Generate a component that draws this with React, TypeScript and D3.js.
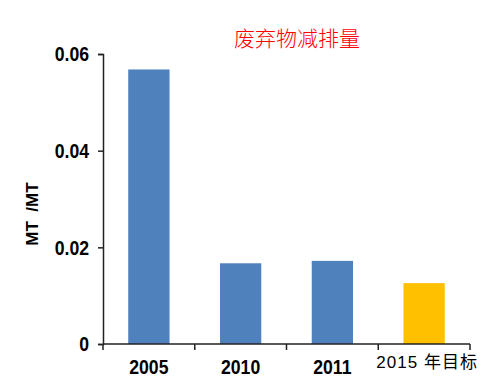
import React, { useEffect, useRef } from 'react'
import * as d3 from 'd3'

const categories = ['2005', '2010', '2011', '2015 年目标']
const values = [0.0568, 0.0167, 0.0172, 0.0126]
const barColors = ['#4F81BD', '#4F81BD', '#4F81BD', '#FFC000']
const yTicks = [0, 0.02, 0.04, 0.06]
const title = '废弃物减排量'
const yLabel = 'MT  /MT'

const W = 499
const H = 385
const margin = { top: 54, right: 29, bottom: 41, left: 103 }
const boldFont = '"Liberation Sans", Arial, sans-serif'

// squeeze bold labels to look like a narrow face
const narrow = (sel: any, k = 0.84) =>
  sel.each(function (this: SVGTextElement) {
    const w = this.getComputedTextLength()
    d3.select(this).attr('textLength', w * k).attr('lengthAdjust', 'spacingAndGlyphs')
  })

const App = () => {
  const ref = useRef<SVGSVGElement>(null)

  useEffect(() => {
    const svg = d3.select(ref.current)
    svg.selectAll('*').remove()

    const x = d3
      .scaleBand()
      .domain(categories)
      .range([margin.left, W - margin.right])
      .paddingInner(0.55)
      .paddingOuter(0.275)

    const y = d3
      .scaleLinear()
      .domain([0, 0.06])
      .range([H - margin.bottom, margin.top])

    // bars
    svg
      .append('g')
      .selectAll('rect')
      .data(values)
      .join('rect')
      .attr('x', (_, i) => x(categories[i]))
      .attr('y', (d) => y(d))
      .attr('width', x.bandwidth())
      .attr('height', (d) => y(0) - y(d))
      .attr('fill', (_, i) => barColors[i])

    // y axis
    const yAxis = svg
      .append('g')
      .attr('transform', `translate(${margin.left},0)`)
      .call(
        d3
          .axisLeft(y)
          .tickValues(yTicks)
          .tickSize(5)
          .tickPadding(9)
          .tickFormat((d) => (d === 0 ? '0' : d3.format('.2f')(d as number)))
      )
    yAxis.select('.domain').attr('stroke', '#222').attr('stroke-width', 1.5)
    yAxis.selectAll('.tick line').attr('stroke', '#222').attr('stroke-width', 1.5)
    yAxis
      .selectAll('.tick text')
      .attr('font-family', boldFont)
      .attr('font-weight', 'bold')
      .attr('font-size', 21)
      .attr('fill', '#000')
      .call(narrow)

    // x axis (ticks at band edges)
    const edges = categories.map((c) => (x(c) as number) - (x.step() * x.paddingInner()) / 2)
    edges.push(W - margin.right)
    const xg = svg.append('g')
    xg.append('line')
      .attr('x1', margin.left)
      .attr('x2', W - margin.right)
      .attr('y1', y(0))
      .attr('y2', y(0))
      .attr('stroke', '#222')
      .attr('stroke-width', 1.5)
    xg.selectAll('line.tk')
      .data(edges)
      .join('line')
      .attr('class', 'tk')
      .attr('x1', (d) => d)
      .attr('x2', (d) => d)
      .attr('y1', y(0))
      .attr('y2', y(0) + 6)
      .attr('stroke', '#222')
      .attr('stroke-width', 1.5)
    const xl = xg
      .selectAll('text')
      .data(categories)
      .join('text')
      .attr('x', (d, i) => (x(d) as number) + x.bandwidth() / 2 + (i < 3 ? 0 : 3))
      .attr('y', (_, i) => (i < 3 ? 374 : 368))
      .attr('text-anchor', 'middle')
      .attr('fill', '#000')
      .text((d) => d)
    xl.filter((_, i) => i < 3)
      .attr('font-family', boldFont)
      .attr('font-weight', 'bold')
      .attr('font-size', 21)
      .call(narrow)
    xl.filter((_, i) => i === 3)
      .attr('font-family', '"Liberation Sans", Arial, "Noto Sans CJK SC", sans-serif')
      .attr('font-size', 17)
      .attr('letter-spacing', 1)

    // y label
    svg
      .append('text')
      .attr('transform', `translate(38,214) rotate(-90)`)
      .attr('text-anchor', 'middle')
      .attr('font-family', boldFont)
      .attr('font-weight', 'bold')
      .attr('font-size', 17)
      .style('white-space', 'pre')
      .text(yLabel)

    // title
    svg
      .append('text')
      .attr('x', 297)
      .attr('y', 46)
      .attr('text-anchor', 'middle')
      .attr('font-family', '"Noto Sans CJK SC", sans-serif')
      .attr('font-size', 21)
      .attr('font-weight', 300)
      .attr('fill', '#FF0000')
      .text(title)
  }, [])

  return (
    <svg
      ref={ref}
      width={W}
      height={H}
      style={{ position: 'absolute', left: 0, top: 0, background: '#fff' }}
    />
  )
}

export default App
